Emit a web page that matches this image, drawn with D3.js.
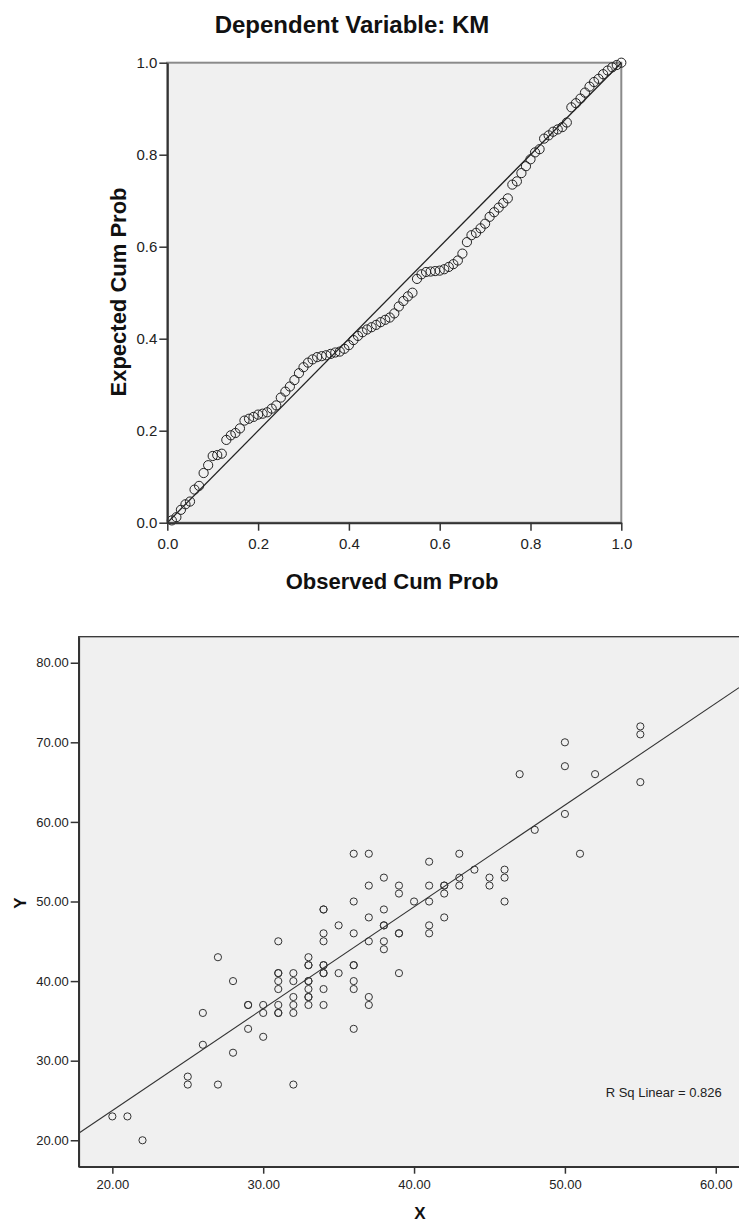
<!DOCTYPE html>
<html>
<head>
<meta charset="utf-8">
<script src="https://cdn.jsdelivr.net/npm/d3@7"></script>
<style>
  body { margin: 0; background: #fff; }
  svg { display: block; font-family: "Liberation Sans", Arial, sans-serif; }
</style>
</head>
<body>
<svg id="chart" width="739" height="1224"></svg>
<script>
// P-P plot of residuals (observed vs expected cumulative probability)
const ppObserved = [0.01,0.02,0.03,0.04,0.05,0.06,0.07,0.08,0.09,0.10,
  0.11,0.12,0.13,0.14,0.15,0.16,0.17,0.18,0.19,0.20,
  0.21,0.22,0.23,0.24,0.25,0.26,0.27,0.28,0.29,0.30,
  0.31,0.32,0.33,0.34,0.35,0.36,0.37,0.38,0.39,0.40,
  0.41,0.42,0.43,0.44,0.45,0.46,0.47,0.48,0.49,0.50,
  0.51,0.52,0.53,0.54,0.55,0.56,0.57,0.58,0.59,0.60,
  0.61,0.62,0.63,0.64,0.65,0.66,0.67,0.68,0.69,0.70,
  0.71,0.72,0.73,0.74,0.75,0.76,0.77,0.78,0.79,0.80,
  0.81,0.82,0.83,0.84,0.85,0.86,0.87,0.88,0.89,0.90,
  0.91,0.92,0.93,0.94,0.95,0.96,0.97,0.98,0.99,1.00]
const ppExpected = [0.005,0.012,0.028,0.040,0.046,0.072,0.080,0.108,0.125,0.145,
  0.147,0.150,0.180,0.190,0.195,0.205,0.222,0.226,0.230,0.235,
  0.237,0.240,0.248,0.255,0.272,0.285,0.296,0.310,0.325,0.338,
  0.348,0.355,0.360,0.362,0.364,0.367,0.370,0.372,0.378,0.386,
  0.397,0.406,0.414,0.420,0.425,0.430,0.436,0.441,0.446,0.455,
  0.470,0.482,0.492,0.500,0.530,0.540,0.545,0.546,0.547,0.548,
  0.551,0.556,0.562,0.570,0.585,0.610,0.625,0.630,0.640,0.650,
  0.665,0.675,0.685,0.695,0.705,0.735,0.742,0.760,0.775,0.790,
  0.805,0.812,0.835,0.842,0.850,0.855,0.860,0.870,0.903,0.912,
  0.922,0.935,0.948,0.958,0.965,0.975,0.983,0.990,0.995,1.000]
const ppTicks = [0, 0.2, 0.4, 0.6, 0.8, 1.0]

// scatter of X against Y
const scX = [20,21,22,25,25,26,26,27,27,28,28,29,29,29,30,30,30,
  31,31,31,31,31,31,31,31,32,32,32,32,32,32,
  33,33,33,33,33,33,33,33,33,34,34,34,34,34,34,34,34,34,34,
  35,35,36,36,36,36,36,36,36,36,37,37,37,37,37,37,
  38,38,38,38,38,38,39,39,39,39,39,40,41,41,41,41,41,
  42,42,42,42,43,43,43,44,45,45,46,46,46,47,48,50,50,50,51,52,55,55,55]
const scY = [23,23,20,28,27,36,32,43,27,40,31,37,37,34,37,36,33,
  45,41,41,40,39,37,36,36,41,40,38,37,36,27,
  43,42,42,40,40,39,38,38,37,49,49,46,45,42,42,41,41,39,37,
  47,41,56,50,46,42,42,40,39,34,56,52,48,45,38,37,
  53,49,47,47,45,44,52,51,46,46,41,50,55,52,50,47,46,
  52,52,51,48,56,53,52,54,53,52,54,53,50,66,59,70,67,61,56,66,72,71,65]
const xTicks = [20, 30, 40, 50, 60]
const yTicks = [20, 30, 40, 50, 60, 70, 80]
const fitIntercept = -1.84, fitSlope = 1.279
const rSqLabel = "R Sq Linear = 0.826"

const svg = d3.select("#chart")
const bg = "#f0f0f0", ink = "#333"

// ---------- P-P plot ----------
const px = d3.scaleLinear().domain([0, 1]).range([167.3, 621.3])
const py = d3.scaleLinear().domain([0, 1]).range([522.7, 62.7])
const pp = svg.append("g")

pp.append("rect").attr("x", px(0)).attr("y", py(1))
  .attr("width", px(1) - px(0)).attr("height", py(0) - py(1))
  .attr("fill", bg).attr("stroke", "#8a8a8a").attr("stroke-width", 2)

// reference diagonal
pp.append("line").attr("x1", px(0)).attr("y1", py(0)).attr("x2", px(1)).attr("y2", py(1))
  .attr("stroke", "#222").attr("stroke-width", 1.3)

pp.selectAll("circle").data(ppObserved).join("circle")
  .attr("cx", d => px(d))
  .attr("cy", (d, i) => py(ppExpected[i]))
  .attr("r", 4.6).attr("fill", "none").attr("stroke", "#222").attr("stroke-width", 1)

const ppFmt = d3.format(".1f")
const ppXAxis = pp.append("g").attr("transform", `translate(0,${py(0)})`)
  .call(d3.axisBottom(px).tickValues(ppTicks).tickFormat(ppFmt).tickSize(8).tickSizeOuter(0).tickPadding(8))
const ppYAxis = pp.append("g").attr("transform", `translate(${px(0)},0)`)
  .call(d3.axisLeft(py).tickValues(ppTicks).tickFormat(ppFmt).tickSize(8).tickSizeOuter(0).tickPadding(2))
;[ppXAxis, ppYAxis].forEach(a => {
  a.select(".domain").attr("stroke", ink).attr("stroke-width", 2)
  a.selectAll(".tick line").attr("stroke", ink).attr("stroke-width", 1.5)
  a.selectAll("text").attr("fill", "#222").style("font-size", "15px").style("font-family", "Liberation Sans, Arial")
})

pp.append("text").attr("x", 352).attr("y", 33).attr("text-anchor", "middle")
  .style("font-size", "24px").attr("font-weight", "bold").attr("fill", "#111")
  .text("Dependent Variable: KM")
pp.append("text").attr("x", 392).attr("y", 589).attr("text-anchor", "middle")
  .style("font-size", "22px").attr("font-weight", "bold").attr("fill", "#111")
  .text("Observed Cum Prob")
pp.append("text").attr("transform", "translate(126,292) rotate(-90)").attr("text-anchor", "middle")
  .style("font-size", "22px").attr("font-weight", "bold").attr("fill", "#111")
  .text("Expected Cum Prob")

// ---------- scatter ----------
const sx = d3.scaleLinear().domain([17.77, 61.54]).range([78.7, 739])
const sy = d3.scaleLinear().domain([16.68, 83.27]).range([1166.7, 636.7])
const sc = svg.append("g")

sc.append("rect").attr("x", sx.range()[0]).attr("y", sy.range()[1])
  .attr("width", sx.range()[1] - sx.range()[0] + 2).attr("height", sy.range()[0] - sy.range()[1])
  .attr("fill", bg).attr("stroke", ink).attr("stroke-width", 1.3)

sc.append("clipPath").attr("id", "scClip").append("rect")
  .attr("x", sx.range()[0]).attr("y", sy.range()[1])
  .attr("width", sx.range()[1] - sx.range()[0]).attr("height", sy.range()[0] - sy.range()[1])

const [x0, x1] = sx.domain()
sc.append("line").attr("clip-path", "url(#scClip)")
  .attr("x1", sx(x0)).attr("y1", sy(fitIntercept + fitSlope * x0))
  .attr("x2", sx(x1)).attr("y2", sy(fitIntercept + fitSlope * x1))
  .attr("stroke", "#333").attr("stroke-width", 1.1)

sc.selectAll("circle").data(scX).join("circle")
  .attr("cx", d => sx(d))
  .attr("cy", (d, i) => sy(scY[i]))
  .attr("r", 3.6).attr("fill", "none").attr("stroke", "#333").attr("stroke-width", 1)

const scFmt = d3.format(".2f")
const scXAxis = sc.append("g").attr("transform", `translate(0,${sy.range()[0]})`)
  .call(d3.axisBottom(sx).tickValues(xTicks).tickFormat(scFmt).tickSize(7).tickSizeOuter(0).tickPadding(6))
const scYAxis = sc.append("g").attr("transform", `translate(${sx.range()[0]},0)`)
  .call(d3.axisLeft(sy).tickValues(yTicks).tickFormat(scFmt).tickSize(8).tickSizeOuter(0).tickPadding(2))
;[scXAxis, scYAxis].forEach(a => {
  a.select(".domain").attr("stroke", ink).attr("stroke-width", 1.8)
  a.selectAll(".tick line").attr("stroke", ink).attr("stroke-width", 1.5)
  a.selectAll("text").attr("fill", "#222").style("font-size", "13px").style("font-family", "Liberation Sans, Arial")
})

sc.append("text").attr("x", 721.7).attr("y", 1097).attr("text-anchor", "end")
  .style("font-size", "13px").attr("fill", "#222").text(rSqLabel)
sc.append("text").attr("x", 420).attr("y", 1219).attr("text-anchor", "middle")
  .style("font-size", "17px").attr("font-weight", "bold").attr("fill", "#111").text("X")
sc.append("text").attr("transform", "translate(26,903) rotate(-90)").attr("text-anchor", "middle")
  .style("font-size", "17px").attr("font-weight", "bold").attr("fill", "#111").text("Y")
</script>
</body>
</html>
